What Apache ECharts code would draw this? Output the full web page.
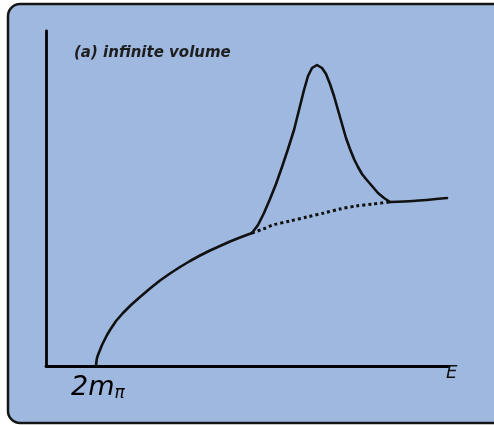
<!DOCTYPE html>
<html>
<head>
<meta charset="utf-8">
<script src="https://cdn.jsdelivr.net/npm/echarts@6/dist/echarts.min.js"></script>
<style>
html,body{margin:0;padding:0;background:#fff;}
#c{width:494px;height:425px;}
</style>
</head>
<body>
<div id="c"></div>
<script>
// Schematic units: x = energy, y = cross section (arbitrary)
var backgroundCurve = [[50,0],[50.5,5],[51,8],[52,11],[54,16],[56,21],[58,25],[61,31],[64,36],[70,45],[77,53],[85,61],[94,69],[104,77.5],[114,85.5],[124,92.5],[134,99],[144,105],[154,110.5],[164,115.5],[174,120],[184,124.5],[194,128.5],[206,133]];
var dottedContinuation = [[206,133],[217,137],[227,141],[244,145],[261,149],[278,153],[294,157],[310,160],[327,162],[344,164]];
var resonanceCurve = [[206,133],[212,141],[218,153],[224,167],[230,182],[236,199],[242,217],[248,236],[254,260],[258,276],[262,290],[266,298],[271,301],[276,298],[280,292],[284,282],[288,270],[292,256],[296,242],[300,228],[304,217],[308,207],[312,199],[316,192],[320,187],[326,180],[332,173],[338,168],[344,164]];
var tailCurve = [[344,164],[367,165],[401,168]];
var titleText = '(a) infinite volume';
var thresholdLabel = '2m';
var thresholdSub = 'π';
var axisLabelE = 'E';

var chart = echarts.init(document.getElementById('c'), null, {renderer:'canvas'});
var lineStyle = {color:'#111', width:2.6, cap:'round', join:'round'};
chart.setOption({
  backgroundColor:'#ffffff',
  animation:false,
  graphic:[
    {type:'rect', z:-10, shape:{x:8, y:4, width:500, height:419, r:12},
     style:{fill:'#9fb8df', stroke:'#151515', lineWidth:2.5}},
    {type:'text', left:74, top:46, style:{text:titleText, font:'italic bold 15px "DejaVu Sans"', fill:'#1e1e1e'}},
    {type:'text', left:71, top:374, style:{
      text:'{a|'+thresholdLabel+'}{b|'+thresholdSub+'}',
      rich:{a:{fontSize:27, fontStyle:'italic', fontFamily:'DejaVu Sans', color:'#111'},
            b:{fontSize:17, fontStyle:'italic', fontFamily:'DejaVu Sans', color:'#111', padding:[12,0,0,0]}}}},
    {type:'text', left:446, top:364, style:{text:axisLabelE, font:'italic 18px "DejaVu Sans"', fill:'#111'}}
  ],
  grid:{left:46, right:46, top:31, bottom:59, containLabel:false},
  xAxis:{type:'value', min:0, max:402, axisLine:{show:true, lineStyle:{color:'#000', width:2.8}},
         axisTick:{show:false}, axisLabel:{show:false}, splitLine:{show:false}},
  yAxis:{type:'value', min:0, max:335, axisLine:{show:true, lineStyle:{color:'#000', width:2.8}},
         axisTick:{show:false}, axisLabel:{show:false}, splitLine:{show:false}},
  series:[
    {type:'line', data:backgroundCurve, smooth:false, symbol:'none', lineStyle:lineStyle},
    {type:'line', data:resonanceCurve, smooth:false, symbol:'none', lineStyle:lineStyle},
    {type:'line', data:tailCurve, smooth:0.3, symbol:'none', lineStyle:lineStyle},
    {type:'line', data:dottedContinuation, smooth:0.3, symbol:'none',
     lineStyle:{color:'#111', width:3, type:[3,3]}}
  ]
});
</script>
</body>
</html>
